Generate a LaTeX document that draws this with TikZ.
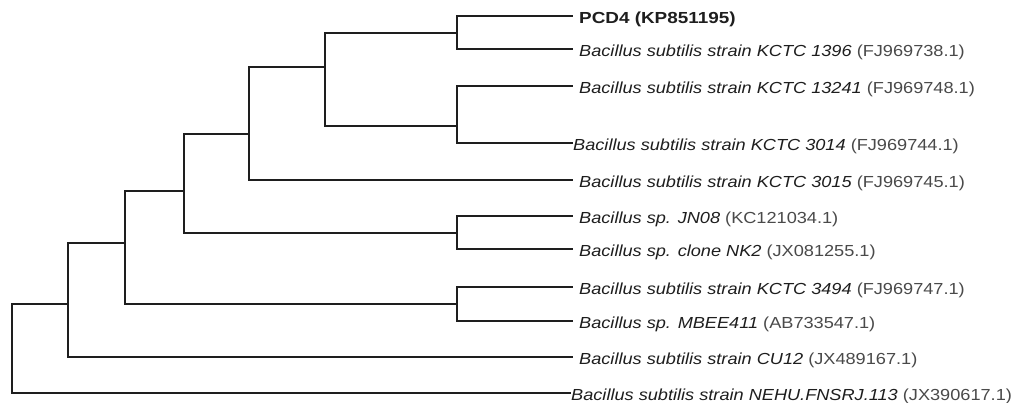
\documentclass[tikz,border=0pt]{standalone}
\usepackage{fontspec}
\setmainfont{Liberation Sans}
\usepackage{graphicx}
\definecolor{acc}{HTML}{4A4A4A}
\definecolor{ink}{HTML}{1E1E1E}
\newcommand{\lbl}[2]{\scalebox{1.135}[1]{\textit{#1} \textcolor{acc}{(#2)}}}
\begin{document}
\begin{tikzpicture}[x=1pt,y=-1pt,
  edge/.style={draw=ink,line width=1.4pt,line cap=rect,line join=miter},
  leaf/.style={anchor=west,inner xsep=7pt,inner ysep=0pt,text height=14.5pt,text depth=0pt,
    text=ink,font=\fontsize{16}{18}\selectfont},
  tightleaf/.style={leaf,inner xsep=1pt}]
\useasboundingbox (0,0) rectangle (1018,402);
\fill[white] (0,0) rectangle (1018,402);
% internal nodes
\coordinate (R) at (12,348);
\coordinate (A) at (68,304);
\coordinate (B) at (125,243);
\coordinate (C) at (184,191);
\coordinate (D) at (249,134);
\coordinate (E) at (325,67);
\coordinate (F) at (457,33);
\coordinate (G) at (457,126);
\coordinate (H) at (457,233);
\coordinate (I) at (457,304);
% leaves
\node[leaf] (l1) at (572,16) {\scalebox{1.18}[1]{\textbf{PCD4 (KP851195)}}};
\node[leaf] (l2) at (572,49) {\lbl{Bacillus subtilis strain KCTC 1396}{FJ969738.1}};
\node[leaf] (l3) at (572,86) {\lbl{Bacillus subtilis strain KCTC 13241}{FJ969748.1}};
\node[tightleaf] (l4) at (572,143) {\lbl{Bacillus subtilis strain KCTC 3014}{FJ969744.1}};
\node[leaf] (l5) at (572,180) {\lbl{Bacillus subtilis strain KCTC 3015}{FJ969745.1}};
\node[leaf] (l6) at (572,216) {\lbl{Bacillus sp. JN08}{KC121034.1}};
\node[leaf] (l7) at (572,249) {\lbl{Bacillus sp. clone NK2}{JX081255.1}};
\node[leaf] (l8) at (572,287) {\lbl{Bacillus subtilis strain KCTC 3494}{FJ969747.1}};
\node[leaf] (l9) at (572,321) {\lbl{Bacillus sp. MBEE411}{AB733547.1}};
\node[leaf] (l10) at (572,357) {\lbl{Bacillus subtilis strain CU12}{JX489167.1}};
\node[tightleaf] (l11) at (570,393) {\lbl{Bacillus subtilis strain NEHU.FNSRJ.113}{JX390617.1}};
% branches
\draw[edge] (R) |- (A);
\draw[edge] (R) |- (l11.west);
\draw[edge] (A) |- (B);
\draw[edge] (A) |- (l10.west);
\draw[edge] (B) |- (C);
\draw[edge] (B) |- (I);
\draw[edge] (C) |- (D);
\draw[edge] (C) |- (H);
\draw[edge] (D) |- (E);
\draw[edge] (D) |- (l5.west);
\draw[edge] (E) |- (F);
\draw[edge] (E) |- (G);
\draw[edge] (F) |- (l1.west);
\draw[edge] (F) |- (l2.west);
\draw[edge] (G) |- (l3.west);
\draw[edge] (G) |- (l4.west);
\draw[edge] (H) |- (l6.west);
\draw[edge] (H) |- (l7.west);
\draw[edge] (I) |- (l8.west);
\draw[edge] (I) |- (l9.west);
\end{tikzpicture}
\end{document}
